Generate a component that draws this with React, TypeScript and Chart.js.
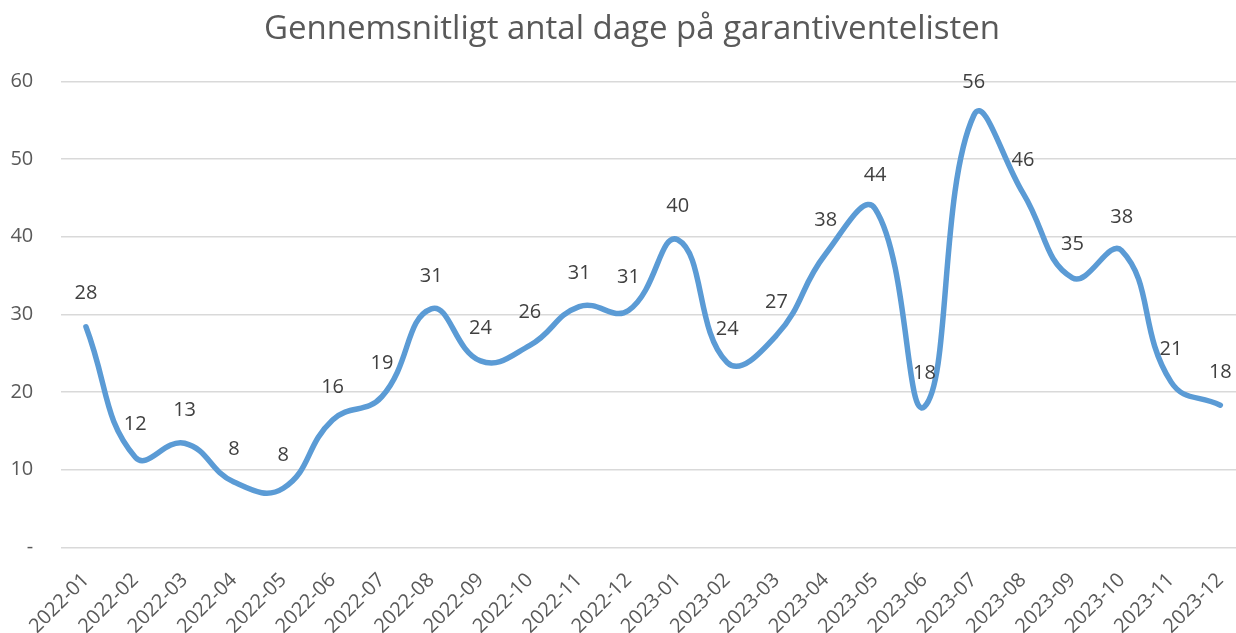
import React, { useEffect, useRef } from 'react';
import { Chart, registerables } from 'chart.js';

Chart.register(...registerables);

const titleText = 'Gennemsnitligt antal dage på garantiventelisten';
const categories = [
  '2022-01', '2022-02', '2022-03', '2022-04', '2022-05', '2022-06',
  '2022-07', '2022-08', '2022-09', '2022-10', '2022-11', '2022-12',
  '2023-01', '2023-02', '2023-03', '2023-04', '2023-05', '2023-06',
  '2023-07', '2023-08', '2023-09', '2023-10', '2023-11', '2023-12',
];
const values = [
  28.4, 11.6, 13.4, 8.4, 7.6, 16.4,
  19.4, 30.7, 24.0, 26.0, 31.0, 30.5,
  39.6, 23.8, 27.3, 37.8, 43.6, 18.1,
  55.6, 45.6, 34.7, 38.2, 21.3, 18.3,
];
const yMin = 0;
const yMax = 60;
const yStep = 10;

const FONT = "'Open Sans', sans-serif";

const overlayPlugin = {
  id: 'overlay',
  afterDatasetsDraw(chart: any) {
    const ctx = chart.ctx;
    ctx.save();
    // title
    ctx.fillStyle = '#595959';
    ctx.font = `33px ${FONT}`;
    ctx.textAlign = 'center';
    ctx.textBaseline = 'alphabetic';
    ctx.fillText(titleText, 632, 39);
    // data labels
    const meta = chart.getDatasetMeta(0);
    ctx.fillStyle = '#404040';
    ctx.font = `20px ${FONT}`;
    ctx.textBaseline = 'middle';
    meta.data.forEach((pt: any, i: number) => {
      ctx.fillText(String(Math.round(values[i])), pt.x, pt.y - 33);
    });
    ctx.restore();
  },
};

export default function App() {
  const ref = useRef<HTMLCanvasElement>(null);
  useEffect(() => {
    if (!ref.current) return;
    const chart = new Chart(ref.current, {
      type: 'line',
      data: {
        labels: categories,
        datasets: [
          {
            data: values,
            borderColor: '#5B9BD5',
            borderWidth: 5.5,
            pointRadius: 0,
            tension: 0.45,
            borderCapStyle: 'round',
            borderJoinStyle: 'round',
            fill: false,
          },
        ],
      },
      options: {
        responsive: false,
        animation: false,
        devicePixelRatio: 1,
        layout: { padding: { top: 81.3, left: 0, right: 0, bottom: 0 } },
        plugins: {
          legend: { display: false },
          title: { display: false },
          tooltip: { enabled: false },
        },
        scales: {
          x: {
            offset: true,
            grid: { display: false, drawTicks: false },
            border: { display: false },
            ticks: {
              color: '#595959',
              font: { family: FONT, size: 20 },
              minRotation: 45,
              maxRotation: 45,
              autoSkip: false,
              padding: 21,
            },
            afterFit(scale: any) {
              scale.height = 633 - 547.3;
              scale.paddingLeft = 0;
              scale.paddingRight = 0;
            },
          },
          y: {
            min: yMin,
            max: yMax,
            border: { display: false },
            grid: { color: '#D9D9D9', lineWidth: 1.5, drawTicks: false },
            ticks: {
              stepSize: yStep,
              color: '#595959',
              font: { family: FONT, size: 20 },
              padding: 28,
              callback: (v: any) => (v === 0 ? '-' : String(v)),
            },
            afterFit(scale: any) {
              scale.width = 61.3;
            },
          },
        },
      },
      plugins: [overlayPlugin],
    });
    return () => chart.destroy();
  }, []);
  return (
    <div
      style={{
        position: 'fixed',
        left: 0,
        top: 0,
        width: 1236,
        height: 633,
        overflow: 'hidden',
        background: '#fff',
      }}
    >
      <canvas ref={ref} width={1245} height={633} style={{ display: 'block', width: 1245, height: 633 }} />
    </div>
  );
}
